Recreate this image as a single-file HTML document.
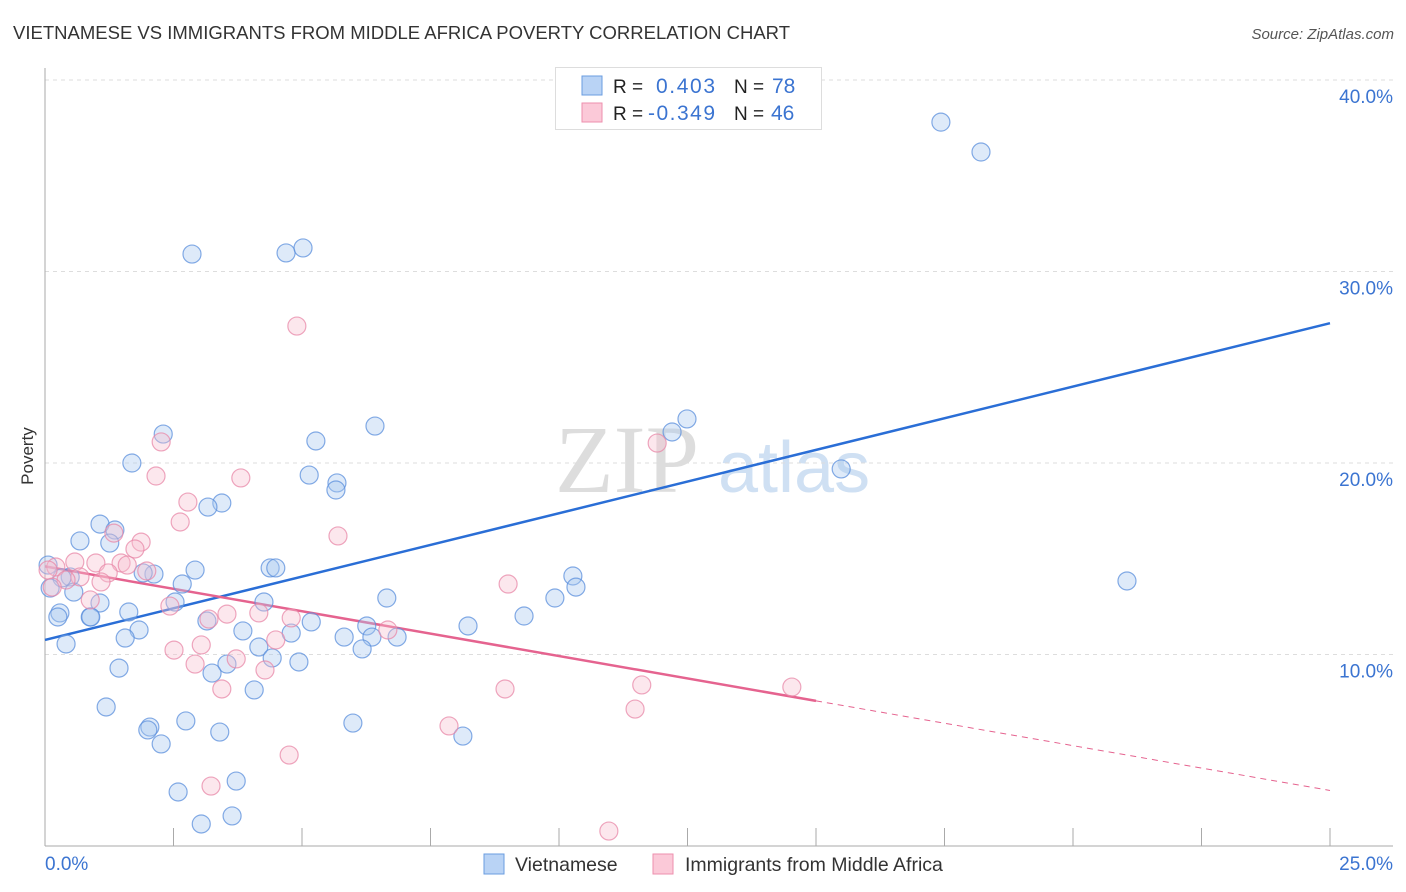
<!DOCTYPE html>
<html><head><meta charset="utf-8"><style>
body{margin:0;background:#fff;font-family:"Liberation Sans",sans-serif;}
svg{display:block}
</style></head><body>
<svg id="chart" width="1406" height="892">
<text x="13" y="39" font-size="18" fill="#333" textLength="777" lengthAdjust="spacingAndGlyphs">VIETNAMESE VS IMMIGRANTS FROM MIDDLE AFRICA POVERTY CORRELATION CHART</text>
<text x="1394" y="39" font-size="15" fill="#555" font-style="italic" text-anchor="end">Source: ZipAtlas.com</text>
<text x="33" y="456" font-size="17" fill="#333" text-anchor="middle" transform="rotate(-90 33 456)">Poverty</text>
<g><text x="555" y="492" font-size="96" fill="#ddd" font-family="Liberation Serif,serif">ZIP</text><text x="718" y="492" font-size="72" fill="#cfe0f3">atlas</text></g>
<g id="grid"></g><g id="axes"></g><g id="lines"></g><g id="pts"></g>
<g>
<rect x="555.5" y="67.5" width="266" height="62" fill="#fff" stroke="#ddd"/>
<rect x="582" y="76" width="20" height="19" fill="#b9d3f5" stroke="#6a9de0"/>
<rect x="582" y="103" width="20" height="19" fill="#fbc9d8" stroke="#ee8fae"/>
<text x="613" y="93" font-size="19" fill="#222">R =</text><text x="656" y="93" font-size="21" fill="#3b74d1" textLength="59">0.403</text>
<text x="734" y="93" font-size="19" fill="#222">N =</text><text x="772" y="93" font-size="21" fill="#3b74d1">78</text>
<text x="613" y="120" font-size="19" fill="#222">R =</text><text x="648" y="120" font-size="21" fill="#3b74d1" textLength="67">-0.349</text>
<text x="734" y="120" font-size="19" fill="#222">N =</text><text x="771" y="120" font-size="21" fill="#3b74d1">46</text>
</g>
<g>
<rect x="484" y="854" width="20" height="20" fill="#b9d3f5" stroke="#6a9de0"/>
<text x="515" y="871" font-size="19.5" fill="#333">Vietnamese</text>
<rect x="653" y="854" width="20" height="20" fill="#fbc9d8" stroke="#ee8fae"/>
<text x="685" y="871" font-size="19.5" fill="#333">Immigrants from Middle Africa</text>
</g>
</svg>
<script>
const blueX=[17.43,18.21,2.86,4.69,5.02,2.30,5.27,6.42,1.69,5.14,5.68,5.66,3.44,3.17,1.07,1.36,1.26,0.68,12.49,12.20,15.49,21.05,10.27,10.33,9.92,9.32,8.23,6.65,4.38,4.49,2.92,2.67,2.12,1.91,0.49,0.33,0.06,0.10,0.56,1.07,1.63,2.53,4.26,5.18,6.26,6.36,6.85,5.82,6.17,4.79,3.85,3.15,1.83,1.56,0.88,0.29,0.25,0.41,1.44,3.54,3.25,4.16,4.42,4.94,4.07,1.19,2.74,2.04,2.00,2.26,3.40,5.99,8.13,3.72,2.59,3.04,3.64,0.89];
const blueY=[37.8,36.24,30.91,30.97,31.23,21.51,21.15,21.93,20.0,19.37,18.96,18.59,17.91,17.70,16.81,16.50,15.82,15.93,22.30,21.62,19.69,13.84,14.10,13.52,12.95,12.01,11.49,12.95,14.52,14.52,14.41,13.68,14.20,14.26,14.05,14.0,14.67,13.47,13.26,12.69,12.22,12.74,12.74,11.70,11.49,10.91,10.91,10.91,10.29,11.12,11.23,11.75,11.28,10.86,11.96,12.17,11.96,10.55,9.29,9.50,9.03,10.39,9.82,9.61,8.15,7.26,6.53,6.21,6.06,5.33,5.95,6.42,5.74,3.39,2.82,1.15,1.57,11.96];
const pinkX=[4.90,2.26,11.91,2.16,3.81,2.78,2.63,5.70,1.34,1.87,1.75,1.48,1.60,0.58,0.99,0.21,1.98,1.23,0.68,0.41,1.09,0.14,0.88,2.43,3.54,4.16,4.79,3.19,6.67,4.49,3.04,2.51,3.72,2.92,4.28,9.01,3.44,8.95,11.61,14.53,11.48,7.86,4.75,3.23,10.97,0.06];
const pinkY=[27.15,21.10,21.04,19.32,19.22,17.96,16.92,16.19,16.34,15.87,15.51,14.78,14.67,14.83,14.78,14.57,14.36,14.26,14.05,13.89,13.79,13.52,12.85,12.53,12.11,12.17,11.91,11.85,11.28,10.76,10.50,10.23,9.77,9.50,9.19,13.68,8.20,8.20,8.41,8.30,7.15,6.27,4.75,3.13,0.78,14.41];
const blueTrend=[10.76,27.3];
const pinkTrend=[14.6,2.9];
const pinkSolidEnd=15;
const yTicks=[10,20,30,40];
const xTickVals=[0,2.5,5,7.5,10,12.5,15,17.5,20,22.5,25];
const xLabels=["0.0%","25.0%"];

const sx=v=>45+v*51.4, sy=v=>846-v*19.15;
const NS="http://www.w3.org/2000/svg";
function mk(t,a,p){const e=document.createElementNS(NS,t);for(const k in a)e.setAttribute(k,a[k]);p.appendChild(e);return e;}
const grid=document.getElementById('grid'),axes=document.getElementById('axes'),lines=document.getElementById('lines'),pts=document.getElementById('pts');
yTicks.forEach(t=>{
 const l=mk('line',{x1:45,x2:1393,y1:sy(t),y2:sy(t),stroke:'#ddd','stroke-dasharray':'4,4'},grid);
 
 
 const tx=mk('text',{x:1393,y:sy(t)+23,'font-size':19,fill:'#3b74d1','text-anchor':'end'},axes);
 tx.textContent=t.toFixed(1)+'%';
 
 
});
const ax=mk('line',{x1:45,x2:1393,y1:846,y2:846,stroke:'#aaa'},axes);


const ay=mk('line',{x1:45,x2:45,y1:68,y2:846,stroke:'#aaa'},axes);


xTickVals.forEach(t=>{
 const l=mk('line',{x1:sx(t),x2:sx(t),y1:828,y2:846,stroke:'#aaa'},axes);
 
 
});
const xl0=mk('text',{x:45,y:870,'font-size':19,fill:'#3b74d1'},axes);xl0.textContent=xLabels[0];


const xl1=mk('text',{x:1393,y:870,'font-size':19,fill:'#3b74d1','text-anchor':'end'},axes);xl1.textContent=xLabels[1];



function dot(x,y,fill,stroke,name){
 const c=mk('circle',{cx:sx(x),cy:sy(y),r:9,fill:fill,'fill-opacity':0.38,stroke:stroke,'stroke-opacity':0.75,'stroke-width':1.2},pts);
 
 
}
blueX.forEach((x,i)=>dot(x,blueY[i],'#a9c8f0','#5b8fdc','point-vietnamese'));
pinkX.forEach((x,i)=>dot(x,pinkY[i],'#f8bfd0','#e888a8','point-middle-africa'));

const bl=mk('line',{x1:sx(0),y1:sy(blueTrend[0]),x2:sx(25),y2:sy(blueTrend[1]),stroke:'#2a6ed6','stroke-width':2.5},lines);


const py=x=>pinkTrend[0]+(pinkTrend[1]-pinkTrend[0])*x/25;
const pl=mk('line',{x1:sx(0),y1:sy(py(0)),x2:sx(pinkSolidEnd),y2:sy(py(pinkSolidEnd)),stroke:'#e5638f','stroke-width':2.5},lines);


const pd=mk('line',{x1:sx(pinkSolidEnd),y1:sy(py(pinkSolidEnd)),x2:sx(25),y2:sy(py(25)),stroke:'#e5638f','stroke-width':1,'stroke-dasharray':'6,5'},lines);


</script>
</body></html>
